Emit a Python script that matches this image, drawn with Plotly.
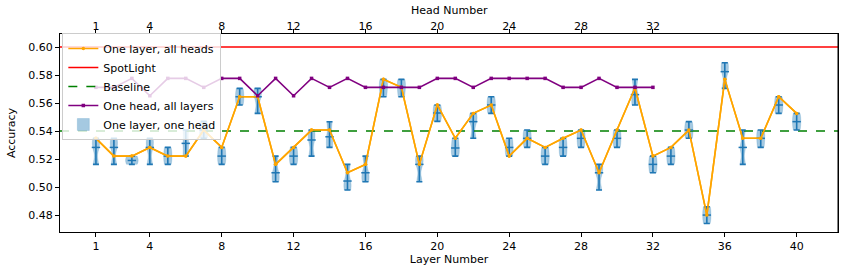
import plotly.graph_objects as go

layers = list(range(1, 41))
heads = list(range(1, 33))

# One layer, all heads (orange)
layer_all_heads = [0.5348, 0.5221, 0.5221, 0.5283, 0.5221, 0.5221, 0.5407, 0.5283, 0.5645, 0.5645,
                   0.5162, 0.5283, 0.5407, 0.5407, 0.5102, 0.5162, 0.5769, 0.5712, 0.5162, 0.5586,
                   0.5348, 0.5526, 0.5586, 0.5221, 0.5348, 0.5283, 0.5348, 0.5407, 0.5102, 0.5407,
                   0.5707, 0.5221, 0.5283, 0.5407, 0.4800, 0.5769, 0.5348, 0.5348, 0.5645, 0.5526]

# One head, all layers (purple)
head_all_layers = [0.5712, 0.5712, 0.5776, 0.5652, 0.5776, 0.5776, 0.5712, 0.5776, 0.5776, 0.5652,
                   0.5776, 0.5652, 0.5776, 0.5712, 0.5776, 0.5712, 0.5712, 0.5712, 0.5712, 0.5776,
                   0.5776, 0.5712, 0.5776, 0.5776, 0.5776, 0.5776, 0.5712, 0.5712, 0.5776, 0.5712,
                   0.5712, 0.5712]

# One layer, one head: per-layer distribution summary (min, median, max)
ol_min = [0.5162, 0.5162, 0.5162, 0.5162, 0.5162, 0.5221, 0.5348, 0.5162, 0.5586, 0.5526,
          0.5038, 0.5162, 0.5221, 0.5283, 0.4979, 0.5038, 0.5645, 0.5645, 0.5038, 0.5469,
          0.5221, 0.5348, 0.5526, 0.5221, 0.5283, 0.5162, 0.5221, 0.5283, 0.4979, 0.5283,
          0.5586, 0.5102, 0.5162, 0.5348, 0.4740, 0.5705, 0.5162, 0.5283, 0.5526, 0.5407]
ol_med = [0.5283, 0.5283, 0.5190, 0.5283, 0.5221, 0.5312, 0.5407, 0.5221, 0.5645, 0.5645,
          0.5102, 0.5221, 0.5336, 0.5359, 0.5043, 0.5102, 0.5712, 0.5712, 0.5162, 0.5529,
          0.5279, 0.5467, 0.5586, 0.5283, 0.5348, 0.5221, 0.5283, 0.5348, 0.5102, 0.5348,
          0.5660, 0.5162, 0.5221, 0.5407, 0.4800, 0.5824, 0.5283, 0.5348, 0.5586, 0.5467]
ol_max = [0.5348, 0.5348, 0.5221, 0.5348, 0.5283, 0.5407, 0.5469, 0.5283, 0.5705, 0.5705,
          0.5221, 0.5283, 0.5407, 0.5466, 0.5162, 0.5221, 0.5769, 0.5769, 0.5221, 0.5586,
          0.5348, 0.5526, 0.5645, 0.5348, 0.5407, 0.5283, 0.5348, 0.5407, 0.5162, 0.5407,
          0.5769, 0.5221, 0.5283, 0.5467, 0.4859, 0.5888, 0.5407, 0.5407, 0.5645, 0.5526]

spotlight = 0.60
baseline = 0.54

layer_ticks = [1, 4, 8, 12, 16, 20, 24, 28, 32, 36, 40]
head_ticks = [1, 4, 8, 12, 16, 20, 24, 28, 32]
yticks = [0.48, 0.50, 0.52, 0.54, 0.56, 0.58, 0.60]

xr = [-1.0, 42.3]
yr = [0.4679, 0.6093]

blue = "#1f77b4"
fig = go.Figure()

vx, vy = [], []
for l, a, m, b in zip(layers, ol_min, ol_med, ol_max):
    for v in (a, m, b):
        vx.append(l)
        vy.append(v)

fig.add_trace(go.Scatter(x=layers, y=layer_all_heads, mode="lines+markers", name="One layer, all heads",
                         line=dict(color="orange", width=1.6), marker=dict(size=3.5, color="orange"),
                         legendrank=1))
fig.add_trace(go.Scatter(x=xr, y=[spotlight, spotlight], mode="lines", name="SpotLight",
                         line=dict(color="red", width=1.6), legendrank=2))
fig.add_trace(go.Scatter(x=xr, y=[baseline, baseline], mode="lines", name="Baseline",
                         line=dict(color="green", width=1.6, dash="dash"), legendrank=3))
fig.add_trace(go.Violin(x=vx, y=vy, name="One layer, one head", width=0.7, scalemode="width",
                        spanmode="hard", bandwidth=0.004, points=False,
                        fillcolor="rgba(31,119,180,0.4)",
                        line=dict(color="rgba(31,119,180,0.35)", width=0.5), hoveron="violins",
                        legendrank=5))
fig.add_trace(go.Scatter(x=layers, y=ol_med, mode="markers", showlegend=False,
                         marker=dict(symbol="line-ew", size=6, line=dict(color=blue, width=1.5)),
                         error_y=dict(type="data", symmetric=False,
                                      array=[b - m for m, b in zip(ol_med, ol_max)],
                                      arrayminus=[m - a for a, m in zip(ol_min, ol_med)],
                                      color=blue, thickness=1.6, width=3)))
fig.add_trace(go.Scatter(x=layers, y=layer_all_heads, mode="lines+markers", showlegend=False,
                         line=dict(color="orange", width=1.6), marker=dict(size=3.5, color="orange")))
fig.add_trace(go.Scatter(x=heads, y=head_all_layers, mode="lines+markers", name="One head, all layers",
                         xaxis="x2", line=dict(color="purple", width=1.6),
                         marker=dict(size=3.5, color="purple", symbol="square"), legendrank=4))

axis_common = dict(showline=True, linecolor="black", linewidth=1, ticks="outside",
                   ticklen=4, tickcolor="black", showgrid=False, zeroline=False, automargin=False,
                   tickfont=dict(size=11, color="black"))

fig.update_layout(
    width=847, height=274,
    margin=dict(l=60, r=9, t=34, b=42),
    plot_bgcolor="white", paper_bgcolor="white",
    font=dict(family="DejaVu Sans", size=11, color="black"),
    violinmode="overlay",
    xaxis=dict(range=xr, tickvals=layer_ticks, title=dict(text="Layer Number", font=dict(size=11), standoff=2),
               **axis_common),
    xaxis2=dict(range=xr, tickvals=head_ticks, overlaying="x", side="top", ticklabelstandoff=-5,
                **axis_common),
    yaxis=dict(range=yr, tickvals=yticks, tickformat=".2f", mirror=True,
               title=dict(text="Accuracy", font=dict(size=11), standoff=10), **axis_common),
    legend=dict(x=0.003, y=1.005, xanchor="left", yanchor="top", bgcolor="rgba(255,255,255,0.8)",
                bordercolor="#cccccc", borderwidth=1, font=dict(size=11), tracegroupgap=0,
                traceorder="normal"),
    showlegend=True,
    annotations=[dict(text="Head Number", xref="paper", yref="paper", x=0.5, y=1,
                      xanchor="center", yanchor="middle", yshift=24, showarrow=False,
                      font=dict(size=11, color="black"))],
)
fig.add_shape(type="line", xref="paper", yref="paper", x0=1, x1=1, y0=0, y1=1,
              line=dict(color="black", width=1))

fig.write_html("out.html", config={"displayModeBar": False},
               post_script="document.body.style.margin='0';")
